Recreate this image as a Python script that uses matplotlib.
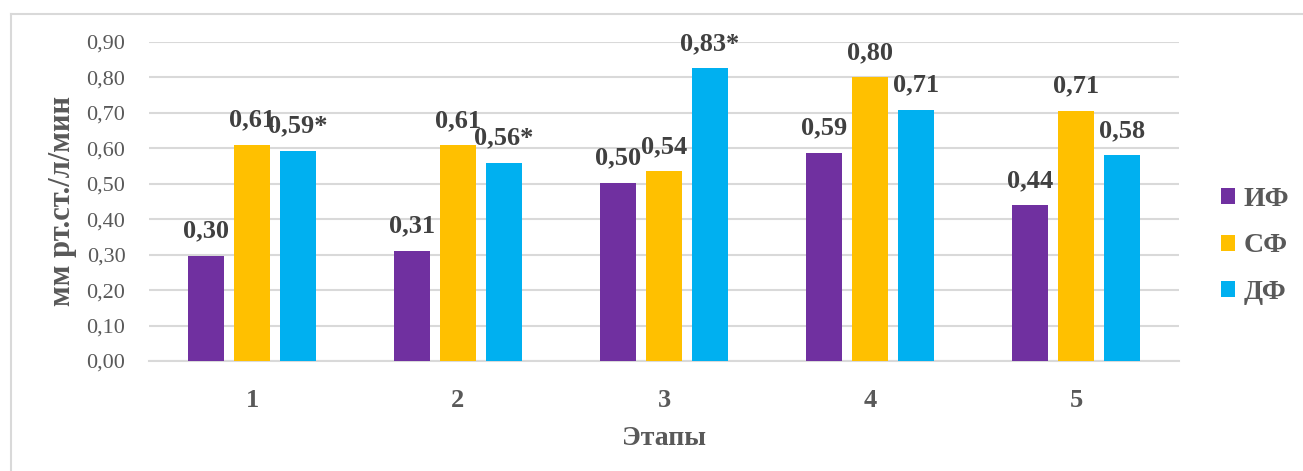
import matplotlib
matplotlib.use("Agg")
import matplotlib.pyplot as plt
import numpy as np
from matplotlib.lines import Line2D
from matplotlib.patches import Patch

plt.rcParams['font.family'] = ['Liberation Serif', 'DejaVu Serif']

stages = ["1", "2", "3", "4", "5"]
series_names = ["ИФ", "СФ", "ДФ"]
colors = ["#7030a0", "#ffc000", "#00b0f0"]

vals_if = [0.297, 0.311, 0.503, 0.588, 0.440]
vals_sf = [0.610, 0.608, 0.536, 0.800, 0.706]
vals_df = [0.593, 0.559, 0.826, 0.709, 0.580]
marks_df = ["*", "*", "*", "", ""]

yticks = [0.0, 0.1, 0.2, 0.3, 0.4, 0.5, 0.6, 0.7, 0.8, 0.9]

W, H = 1303, 471
fig = plt.figure(figsize=(W / 100, H / 100), dpi=100)
ax = fig.add_axes([149 / W, (H - 361) / H, (1179 - 149) / W, (361 - 42) / H])

grid_c = "#d9d9d9"
tick_c = "#595959"
lab_c = "#404040"

x = np.arange(len(stages))
width = 0.175
step = 0.223

all_vals = [vals_if, vals_sf, vals_df]
for i, (vals, c) in enumerate(zip(all_vals, colors)):
    pos = x + (i - 1) * step
    ax.bar(pos, vals, width, color=c, zorder=3)
    for j, (p, v) in enumerate(zip(pos, vals)):
        txt = f"{v:.2f}".replace(".", ",")
        if i == 2:
            txt += marks_df[j]
        ax.annotate(txt, (p, v), xytext=(0, 13), textcoords="offset points",
                    ha="center", va="baseline", fontsize=19, fontweight="bold",
                    color=lab_c, clip_on=False, zorder=4)

ax.set_xlim(-0.5, len(stages) - 0.5)
ax.set_ylim(0, 0.9)
ax.set_yticks(yticks)
ax.set_yticklabels([f"{t:.2f}".replace(".", ",") for t in yticks], fontsize=16, color=tick_c)
ax.set_xticks(x)
ax.set_xticklabels(stages, fontsize=19, fontweight="bold", color=tick_c)
ax.tick_params(axis="both", length=0)
ax.tick_params(axis="y", pad=17)
ax.tick_params(axis="x", pad=20)
ax.grid(axis="y", color=grid_c, linewidth=1.5, zorder=0)
for s in ["top", "right", "left"]:
    ax.spines[s].set_visible(False)
ax.spines["bottom"].set_color(grid_c)
ax.spines["bottom"].set_linewidth(1.5)

ax.set_xlabel("Этапы", fontsize=20, fontweight="bold", color=tick_c, labelpad=10)
ax.set_ylabel("мм рт.ст./л/мин", fontsize=22, fontweight="bold", color=tick_c, labelpad=7)

handles = [Patch(facecolor=c) for c in colors]
fig.legend(handles, series_names, loc="center left",
           bbox_to_anchor=(1221 / W, (H - 246) / H), frameon=False,
           borderpad=0, borderaxespad=0, handlelength=0.5, handleheight=0.5,
           handletextpad=0.3, labelspacing=0.78,
           prop={"size": 20, "weight": "bold"}, labelcolor=tick_c)

# outer chart frame
fig.add_artist(Line2D([10.5 / W, 1], [(H - 13.5) / H, (H - 13.5) / H], color=grid_c, linewidth=1.5))
fig.add_artist(Line2D([10.5 / W, 10.5 / W], [0, (H - 13.5) / H], color=grid_c, linewidth=1.5))

fig.savefig("out.png", dpi=100)
